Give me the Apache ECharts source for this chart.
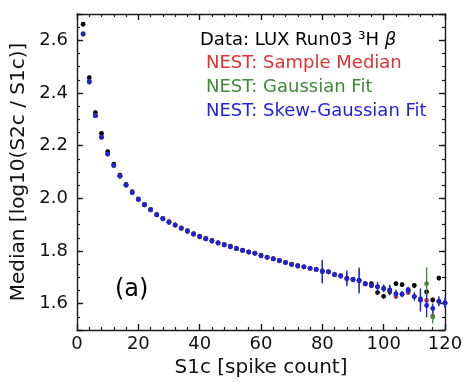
<!DOCTYPE html>
<html>
<head>
<meta charset="utf-8">
<script src="https://cdn.jsdelivr.net/npm/echarts@6/dist/echarts.min.js"></script>
<style>
html,body{margin:0;padding:0;background:#fff;}
#chart{width:467px;height:383px;}
</style>
</head>
<body>
<div id="chart"></div>
<script>
// S1c bin centres
const s1c = [2,4,6,8,10,12,14,16,18,20,22,24,26,28,30,32,34,36,38,40,42,44,46,48,50,52,54,56,58,60,
             62,64,66,68,70,72,74,76,78,80,82,84,86,88,90,92,94,96,98,100,102,104,106,108,110,112,114,116,118,120];
// Data: LUX Run03 3H beta
const dataMedian = [2.661,2.458,2.325,2.247,2.177,2.130,2.088,2.053,2.025,1.998,
                    1.977,1.958,1.939,1.924,1.911,1.899,1.888,1.877,1.866,1.856,
                    1.848,1.840,1.832,1.825,1.818,1.811,1.803,1.797,1.792,1.784,
                    1.777,1.771,1.764,1.757,1.750,1.744,1.740,1.735,1.730,1.724,
                    1.721,1.710,1.706,1.695,1.693,1.688,1.676,1.676,1.642,1.628,
                    1.645,1.676,1.672,1.653,1.669,1.618,1.645,1.614,1.697,1.603];
const dataErr = [0.008,0.008,0.008,0.007,0.007,0.006,0.006,0.006,0.006,0.006,
                 0.006,0.006,0.006,0.006,0.006,0.006,0.006,0.006,0.006,0.006,
                 0.006,0.006,0.006,0.006,0.006,0.006,0.006,0.006,0.006,0.006,
                 0.006,0.006,0.006,0.006,0.006,0.006,0.006,0.006,0.006,0.006,
                 0.006,0.006,0.006,0.007,0.007,0.007,0.008,0.008,0.008,0.008,
                 0.008,0.008,0.008,0.008,0.008,0.009,0.009,0.009,0.009,0.009];
// NEST: Sample Median
const nestMedian = [2.624,2.443,2.314,2.232,2.168,2.125,2.084,2.050,2.022,1.996,
                    1.975,1.956,1.937,1.922,1.909,1.898,1.886,1.875,1.864,1.854,
                    1.846,1.838,1.830,1.823,1.816,1.809,1.802,1.796,1.791,1.782,
                    1.776,1.770,1.763,1.756,1.749,1.743,1.740,1.734,1.730,1.722,
                    1.721,1.710,1.705,1.696,1.691,1.688,1.675,1.669,1.664,1.658,
                    1.652,1.627,1.636,1.642,1.627,1.614,1.612,1.553,1.609,1.603];
const nestMedianErr = [0.004,0.006,0.005,0.005,0.005,0.004,0.004,0.004,0.004,0.004,
                       0.004,0.004,0.004,0.004,0.004,0.004,0.004,0.004,0.004,0.004,
                       0.004,0.004,0.004,0.004,0.004,0.004,0.004,0.004,0.004,0.004,
                       0.004,0.004,0.004,0.004,0.004,0.004,0.004,0.004,0.004,0.006,
                       0.004,0.004,0.004,0.006,0.005,0.006,0.005,0.006,0.006,0.006,
                       0.006,0.008,0.006,0.008,0.006,0.010,0.010,0.010,0.008,0.008];
// NEST: Gaussian Fit
const nestGauss = [2.624,2.443,2.314,2.232,2.168,2.125,2.084,2.050,2.022,1.996,
                   1.975,1.956,1.937,1.922,1.909,1.898,1.886,1.875,1.864,1.854,
                   1.846,1.838,1.830,1.823,1.816,1.809,1.802,1.796,1.791,1.782,
                   1.776,1.770,1.763,1.756,1.749,1.743,1.740,1.734,1.730,1.722,
                   1.721,1.710,1.705,1.696,1.691,1.688,1.675,1.669,1.664,1.658,
                   1.652,1.637,1.636,1.650,1.627,1.614,1.676,1.550,1.609,1.603];
const nestGaussErr = [0.004,0.006,0.005,0.005,0.005,0.004,0.004,0.004,0.004,0.004,
                      0.004,0.004,0.004,0.004,0.004,0.004,0.004,0.004,0.004,0.004,
                      0.004,0.004,0.004,0.004,0.004,0.004,0.004,0.004,0.004,0.004,
                      0.004,0.004,0.004,0.004,0.004,0.004,0.004,0.004,0.004,0.040,
                      0.004,0.004,0.004,0.025,0.006,0.045,0.006,0.008,0.015,0.015,
                      0.018,0.015,0.010,0.012,0.010,0.040,0.062,0.025,0.015,0.015];
// NEST: Skew-Gaussian Fit
const nestSkew = [2.624,2.443,2.314,2.232,2.168,2.125,2.084,2.050,2.022,1.996,
                  1.975,1.956,1.937,1.922,1.909,1.898,1.886,1.875,1.864,1.854,
                  1.846,1.838,1.830,1.823,1.816,1.809,1.802,1.796,1.791,1.782,
                  1.776,1.770,1.763,1.756,1.749,1.743,1.740,1.734,1.730,1.722,
                  1.721,1.710,1.705,1.696,1.691,1.688,1.675,1.669,1.664,1.658,
                  1.652,1.637,1.636,1.650,1.627,1.614,1.593,1.582,1.609,1.603];
const nestSkewErr = [0.004,0.012,0.007,0.006,0.006,0.005,0.005,0.004,0.004,0.004,
                     0.004,0.004,0.004,0.004,0.004,0.004,0.004,0.004,0.004,0.004,
                     0.004,0.004,0.004,0.004,0.004,0.004,0.004,0.004,0.004,0.004,
                     0.004,0.004,0.004,0.004,0.004,0.004,0.004,0.004,0.005,0.045,
                     0.005,0.006,0.008,0.030,0.010,0.049,0.008,0.010,0.018,0.014,
                     0.020,0.016,0.012,0.014,0.016,0.044,0.045,0.019,0.019,0.019];

const xTicks = [0,20,40,60,80,100,120];
const yTickLabels = ['1.6','1.8','2.0','2.2','2.4','2.6'];

const FONT = 'DejaVu Sans';
const AX = '#1a1a1a';
const colors = {data:'#000000', median:'#e03030', gauss:'#3d8b37', skew:'#1f1fe0'};

function errSeries(name, vals, errs, color) {
  return {
    type: 'custom',
    name: name,
    xAxisIndex: 0,
    yAxisIndex: 0,
    data: s1c.map((x, i) => [x, vals[i], errs[i]]),
    encode: {x: 0, y: 1},
    clip: false,
    renderItem: function (params, api) {
      const x = api.value(0), v = api.value(1), e = api.value(2);
      const p = api.coord([x, v]);
      const hi = api.coord([x, v + e]);
      const lo = api.coord([x, v - e]);
      return {
        type: 'group',
        children: [
          {type: 'line', shape: {x1: p[0], y1: hi[1], x2: p[0], y2: lo[1]},
           style: {stroke: color, lineWidth: 1.3}},
          {type: 'circle', shape: {cx: p[0], cy: p[1], r: 2.4},
           style: {fill: color}}
        ]
      };
    }
  };
}

const majorTick = {show: true, inside: true, length: 6, lineStyle: {color: AX, width: 1.4}};
const minorTickStyle = {show: true, inside: true, length: 3, lineStyle: {color: AX, width: 1.2}};
const axisLine = {show: true, lineStyle: {color: AX, width: 1.4}};

const chart = echarts.init(document.getElementById('chart'), null, {renderer: 'canvas'});
chart.setOption({
  backgroundColor: '#ffffff',
  animation: false,
  grid: {left: 77, right: 22, top: 14, bottom: 53, containLabel: false},
  xAxis: [
    {
      type: 'value', position: 'bottom', min: xTicks[0], max: xTicks[xTicks.length - 1], interval: 20,
      axisLine: axisLine, axisTick: majorTick,
      minorTick: {show: true, splitNumber: 5, length: 3, lineStyle: {color: AX, width: 1.2}},
      splitLine: {show: false}, minorSplitLine: {show: false},
      axisLabel: {show: true, fontFamily: FONT, fontSize: 18, color: '#111', margin: 5},
      name: 'S1c [spike count]', nameLocation: 'middle', nameGap: 21,
      nameTextStyle: {fontFamily: FONT, fontSize: 20, color: '#111'}
    },
    {
      type: 'value', position: 'top', min: 0, max: 120, interval: 20,
      axisLine: axisLine, axisTick: majorTick,
      minorTick: {show: true, splitNumber: 5, length: 3, lineStyle: {color: AX, width: 1.2}},
      splitLine: {show: false}, axisLabel: {show: false}
    }
  ],
  yAxis: [
    {
      type: 'value', position: 'left', min: 1.5, max: 2.7, splitNumber: 6,
      axisLine: axisLine, axisTick: majorTick, splitLine: {show: false},
      axisLabel: {
        show: true, fontFamily: FONT, fontSize: 18, color: '#111', margin: 9,
        formatter: function (v) {
          const s = v.toFixed(1);
          return yTickLabels.indexOf(s) >= 0 && Math.abs(v - parseFloat(s)) < 1e-6 ? s : '';
        }
      },
      name: 'Median [log10(S2c / S1c)]', nameLocation: 'middle', nameGap: 48, nameRotate: 90,
      nameTextStyle: {fontFamily: FONT, fontSize: 20, color: '#111'}
    },
    {
      type: 'value', position: 'left', min: 1.5, max: 2.7, interval: 0.05,
      axisLine: {show: false}, axisTick: minorTickStyle, splitLine: {show: false},
      axisLabel: {show: false}
    },
    {
      type: 'value', position: 'right', min: 1.5, max: 2.7, splitNumber: 6,
      axisLine: axisLine, axisTick: majorTick, splitLine: {show: false},
      axisLabel: {show: false}
    },
    {
      type: 'value', position: 'right', min: 1.5, max: 2.7, interval: 0.05,
      axisLine: {show: false}, axisTick: minorTickStyle, splitLine: {show: false},
      axisLabel: {show: false}
    }
  ],
  series: [
    errSeries('Data: LUX Run03 3H beta', dataMedian, dataErr, colors.data),
    errSeries('NEST: Sample Median', nestMedian, nestMedianErr, colors.median),
    errSeries('NEST: Gaussian Fit', nestGauss, nestGaussErr, colors.gauss),
    errSeries('NEST: Skew-Gaussian Fit', nestSkew, nestSkewErr, colors.skew)
  ],
  graphic: [
    {type: 'text', left: 200, top: 31, z: 100,
     style: {text: 'Data: LUX Run03 ³H {it|β}', fill: '#000', fontFamily: FONT, fontSize: 18,
             rich: {it: {fontStyle: 'italic', fontFamily: FONT, fontSize: 18, fill: '#000'}}}},
    {type: 'text', left: 206, top: 54, z: 100,
     style: {text: 'NEST: Sample Median', fill: colors.median, fontFamily: FONT, fontSize: 18}},
    {type: 'text', left: 206, top: 78, z: 100,
     style: {text: 'NEST: Gaussian Fit', fill: colors.gauss, fontFamily: FONT, fontSize: 18}},
    {type: 'text', left: 206, top: 102, z: 100,
     style: {text: 'NEST: Skew-Gaussian Fit', fill: colors.skew, fontFamily: FONT, fontSize: 18}},
    {type: 'text', left: 115, top: 278, z: 100,
     style: {text: '(a)', fill: '#000', fontFamily: FONT, fontSize: 24}}
  ]
});
</script>
</body>
</html>
